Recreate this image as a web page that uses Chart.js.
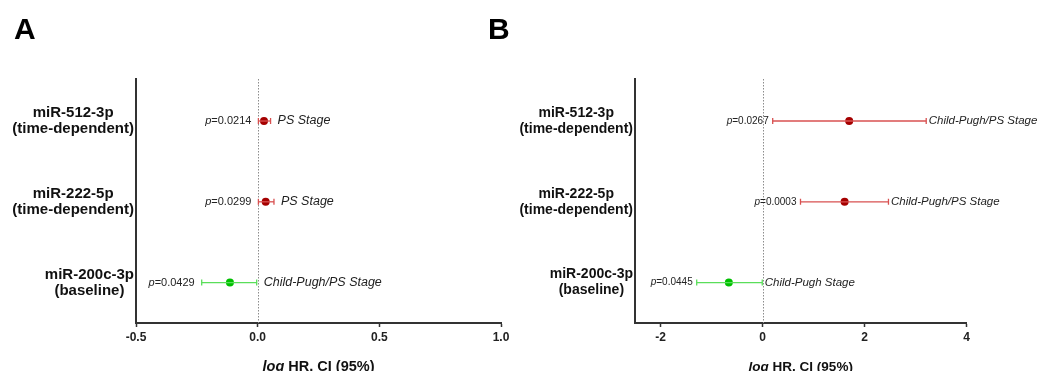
<!DOCTYPE html>
<html>
<head>
<meta charset="utf-8">
<script src="https://cdn.jsdelivr.net/npm/chart.js@4.4.1/dist/chart.umd.min.js"></script>
<style>
  body { margin: 0; background: #fff; }
  #wrap { position: relative; width: 1038px; height: 371px; overflow: hidden; }
  canvas { position: absolute; top: 0; }
  .letter { position: absolute; top: 14px; font: bold 30px/30px "Liberation Sans", Arial, sans-serif; color: #000; }
</style>
</head>
<body>
<div id="wrap">
  <canvas id="chartA" width="519" height="371" style="left:0"></canvas>
  <canvas id="chartB" width="519" height="371" style="left:519px"></canvas>
  <div class="letter" style="left:14px">A</div>
  <div class="letter" style="left:488px">B</div>
</div>
<script>
const FONT = '"Liberation Sans", Arial, sans-serif';

const rowLabels = [['miR-512-3p', '(time-dependent)'], ['miR-222-5p', '(time-dependent)'], ['miR-200c-3p', '(baseline)']];
const rowPos = [2, 1, 0];
const rowDot = ['#a50000', '#a50000', '#00c000'];
const rowLine = ['#d85050', '#d85050', '#5ade5a'];

// panel A
const hrA = [0.026, 0.033, -0.114];
const lowA = [0.003, 0.003, -0.230];
const highA = [0.053, 0.067, -0.004];
const pA = ['0.0214', '0.0299', '0.0429'];
const stageA = ['PS Stage', 'PS Stage', 'Child-Pugh/PS Stage'];
const ticksA = [-0.5, 0, 0.5, 1.0];

// panel B
const hrB = [1.70, 1.61, -0.66];
const lowB = [0.20, 0.745, -1.29];
const highB = [3.21, 2.47, -0.005];
const pB = ['0.0267', '0.0003', '0.0445'];
const stageB = ['Child-Pugh/PS Stage', 'Child-Pugh/PS Stage', 'Child-Pugh Stage'];
const ticksB = [-2, 0, 2, 4];

const forestPlugin = {
  id: 'forest',
  beforeDatasetsDraw(chart) {
    const { ctx, chartArea: area } = chart;
    const x0 = Math.round(chart.scales.x.getPixelForValue(0)) + 0.5;
    ctx.save();
    ctx.strokeStyle = '#8c8c8c';
    ctx.lineWidth = 1;
    ctx.setLineDash([1.5, 1.5]);
    ctx.beginPath();
    ctx.moveTo(x0, area.top);
    ctx.lineTo(x0, area.bottom);
    ctx.stroke();
    ctx.restore();
  },
  afterDraw(chart, args, opts) {
    const { ctx, chartArea: area } = chart;
    const x = chart.scales.x, y = chart.scales.y;
    ctx.save();
    ctx.textBaseline = 'middle';

    // row labels, lines centred inside a right-aligned block
    ctx.fillStyle = '#111';
    ctx.textAlign = 'center';
    ctx.font = 'bold ' + opts.labelSize + 'px ' + FONT;
    rowLabels.forEach((lines, i) => {
      const yc = y.getPixelForValue(rowPos[i]);
      const w = Math.max(...lines.map(l => ctx.measureText(l).width));
      const cx = area.left - 2 - w / 2;
      lines.forEach((l, k) => ctx.fillText(l, cx, yc + (k - (lines.length - 1) / 2) * 16));
    });

    // p values left of the CI, stage notes right of it
    ctx.fillStyle = '#222';
    ctx.textAlign = 'left';
    opts.low.forEach((lo, i) => {
      const yc = y.getPixelForValue(rowPos[i]);
      const rest = '=' + opts.p[i];
      ctx.font = opts.pSize + 'px ' + FONT;
      const wr = ctx.measureText(rest).width;
      const right = x.getPixelForValue(lo) - opts.gapP;
      ctx.fillText(rest, right - wr, yc);
      ctx.font = 'italic ' + opts.pSize + 'px ' + FONT;
      const wp = ctx.measureText('p').width;
      ctx.fillText('p', right - wr - wp, yc);

      ctx.font = 'italic ' + opts.stageSize + 'px ' + FONT;
      ctx.fillText(opts.stage[i], x.getPixelForValue(opts.high[i]) + opts.gapS, yc);
    });

    // x axis title with italic "log"
    ctx.fillStyle = '#111';
    const t1 = 'log ', t2 = 'HR, CI (95%)';
    ctx.font = 'bold italic ' + opts.titleSize + 'px ' + FONT;
    const w1 = ctx.measureText(t1).width;
    ctx.font = 'bold ' + opts.titleSize + 'px ' + FONT;
    const w2 = ctx.measureText(t2).width;
    const start = (area.left + area.right) / 2 - (w1 + w2) / 2;
    ctx.fillText(t2, start + w1, 367);
    ctx.font = 'bold italic ' + opts.titleSize + 'px ' + FONT;
    ctx.fillText(t1, start, 367);
    ctx.restore();
  }
};

function buildDatasets(hr, low, high) {
  const sets = low.map((lo, i) => ({
    showLine: true,
    data: [{ x: lo, y: rowPos[i] }, { x: high[i], y: rowPos[i] }],
    borderColor: rowLine[i],
    borderWidth: 1.3,
    pointStyle: 'line',
    rotation: 90,
    pointRadius: 3,
    pointHoverRadius: 3,
    pointBorderColor: rowLine[i],
    pointBorderWidth: 1.3
  }));
  sets.push({
    data: hr.map((v, i) => ({ x: v, y: rowPos[i] })),
    pointRadius: 4,
    pointHoverRadius: 4,
    pointBackgroundColor: rowDot,
    pointBorderColor: rowDot,
    pointBorderWidth: 0
  });
  return sets;
}

function makeForest(id, cfg) {
  return new Chart(document.getElementById(id), {
    type: 'scatter',
    data: { datasets: buildDatasets(cfg.hr, cfg.low, cfg.high) },
    options: {
      responsive: false,
      animation: false,
      layout: { padding: { top: 79, right: cfg.padRight, left: 0, bottom: 0 } },
      plugins: {
        legend: { display: false },
        tooltip: { enabled: false },
        forest: cfg.notes
      },
      scales: {
        x: {
          type: 'linear',
          min: cfg.min,
          max: cfg.max,
          afterBuildTicks: s => { s.ticks = cfg.ticks.map(v => ({ value: v })); },
          afterFit: s => { s.height = 48; },
          grid: { drawOnChartArea: false, drawTicks: true, tickLength: 4, tickColor: '#333', tickWidth: 1.5 },
          border: { color: '#333', width: 2 },
          ticks: {
            font: { family: FONT, size: 12, weight: 'bold' },
            color: '#222',
            padding: 3,
            maxRotation: 0,
            autoSkip: false,
            callback: v => v.toFixed(cfg.decimals)
          }
        },
        y: {
          type: 'linear',
          min: -0.5,
          max: 2.52,
          afterFit: s => { s.width = cfg.left; },
          grid: { display: false },
          border: { color: '#333', width: 2 },
          ticks: { display: false }
        }
      }
    },
    plugins: [forestPlugin]
  });
}

makeForest('chartA', {
  hr: hrA, low: lowA, high: highA, min: -0.5, max: 1.0, ticks: ticksA, decimals: 1,
  left: 136, padRight: 18,
  notes: { low: lowA, high: highA, p: pA, stage: stageA, labelSize: 15, pSize: 11, stageSize: 12.5, titleSize: 14.5, gapP: 7, gapS: 7 }
});

makeForest('chartB', {
  hr: hrB, low: lowB, high: highB, min: -2.5, max: 4, ticks: ticksB, decimals: 0,
  left: 116, padRight: 71.5,
  notes: { low: lowB, high: highB, p: pB, stage: stageB, labelSize: 14, pSize: 10, stageSize: 11.5, titleSize: 13.5, gapP: 4, gapS: 2.5 }
});
</script>
</body>
</html>
